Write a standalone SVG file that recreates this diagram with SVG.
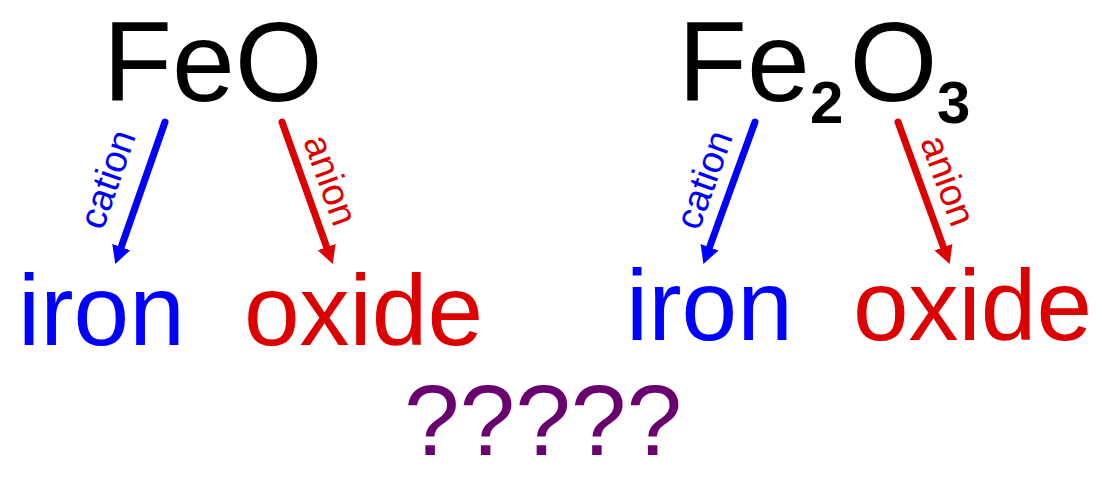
<svg xmlns="http://www.w3.org/2000/svg" width="1103" height="482" viewBox="0 0 1103 482">
<style>
text{font-family:"Liberation Sans",Arial,sans-serif}
.formula{font-size:113px;fill:#000}
.sub{font-size:60px;font-weight:bold;fill:#000}
.word{font-size:100px}
.lab{font-size:38px}
.blue{fill:#0000ff}
.red{fill:#dd0000}
.q{font-size:100px;fill:#6a0070}
.cl{stroke:#0000ff;stroke-width:7;stroke-linecap:round;fill:none}
.al{stroke:#dd0000;stroke-width:7;stroke-linecap:round;fill:none}
</style>
<defs>
<marker id="hb" markerUnits="userSpaceOnUse" markerWidth="20" markerHeight="20" viewBox="0 -10 20 20" refX="1" refY="0" orient="auto"><path d="M0,-9.5 L18,0 L0,9.5 z" fill="#0000ff"/></marker>
<marker id="hr" markerUnits="userSpaceOnUse" markerWidth="20" markerHeight="20" viewBox="0 -10 20 20" refX="1" refY="0" orient="auto"><path d="M0,-9.5 L18,0 L0,9.5 z" fill="#dd0000"/></marker>
</defs>
<g id="feo"><text class="formula" x="103" y="101">FeO</text></g>
<g id="fe2o3">
<text class="formula" x="678" y="101">Fe</text>
<text class="sub" x="810" y="123">2</text>
<text class="formula" x="849.5" y="101">O</text>
<text class="sub" x="937" y="123">3</text>
</g>
<g id="iron1"><text class="word blue" x="18" y="345">iron</text></g>
<g id="oxide1"><text class="word red" x="244" y="345">oxide</text></g>
<g id="iron2"><text class="word blue" x="626" y="340">iron</text></g>
<g id="oxide2"><text class="word red" x="853" y="340">oxide</text></g>
<g id="question"><text class="q" x="404" y="455">?????</text></g>
<g id="connectors">
<line class="cl" x1="165" y1="122" x2="120.9" y2="248" marker-end="url(#hb)"/>
<line class="al" x1="282" y1="122" x2="327" y2="248" marker-end="url(#hr)"/>
<line class="cl" x1="755" y1="122" x2="709.2" y2="248.1" marker-end="url(#hb)"/>
<line class="al" x1="898" y1="122" x2="943.8" y2="248.1" marker-end="url(#hr)"/>
<text class="lab blue" text-anchor="middle" transform="translate(119.4,183.3) rotate(-70.7)">cation</text>
<text class="lab red" text-anchor="middle" transform="translate(318.6,184.4) rotate(70.4)">anion</text>
<text class="lab blue" text-anchor="middle" transform="translate(716,184) rotate(-70)">cation</text>
<text class="lab red" text-anchor="middle" transform="translate(936,185) rotate(70)">anion</text>
</g>
</svg>
